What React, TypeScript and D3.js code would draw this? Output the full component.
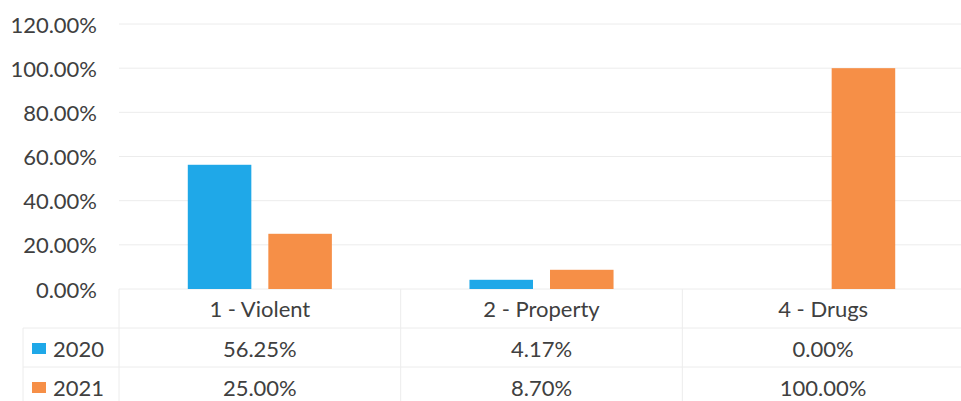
import React from "react";
import * as d3 from "d3";

const categories: string[] = ["1 - Violent", "2 - Property", "4 - Drugs"];
const seriesNames: string[] = ["2020", "2021"];
const values2020: number[] = [56.25, 4.17, 0.0];
const values2021: number[] = [25.0, 8.7, 100.0];
const yTicks: number[] = [0, 20, 40, 60, 80, 100, 120];
const seriesColors: string[] = ["#1fa8e8", "#f68f47"];

const W = 961;
const H = 401;
const FONT = "Lato, 'Open Sans', sans-serif";
const TEXT = "#404040";
const GRID = "#ececec";

export default function App() {
  const seriesValues = [values2020, values2021];
  const x0 = d3.scaleBand<string>().domain(categories).range([119, 964]).paddingInner(0).paddingOuter(0);
  const bw = x0.bandwidth();
  const groupW = (bw * 144) / 281.5;
  const x1 = d3
    .scaleBand<string>()
    .domain(seriesNames)
    .range([(bw - groupW) / 2, (bw + groupW) / 2])
    .paddingInner(0.211)
    .paddingOuter(0);
  const y = d3.scaleLinear().domain([0, 120]).range([289, 24]);
  const fmt = (v: number) => d3.format(".2f")(v) + "%";

  const rowY = [308, 348, 387];
  const rowLines = [289, 328, 367];
  const bounds = categories.map((c) => x0(c) as number).concat([964]);

  return (
    <svg
      width={W}
      height={H}
      viewBox={`0 0 ${W} ${H}`}
      style={{ position: "absolute", left: 0, top: 0, background: "#fff" }}
      fontFamily={FONT}
    >
      <rect x={0} y={0} width={W} height={H} fill="#fff" />
      {/* gridlines */}
      {yTicks.map((t) => (
        <line key={"g" + t} x1={119} x2={W} y1={y(t)} y2={y(t)} stroke={GRID} strokeWidth={1} />
      ))}
      {/* y tick labels */}
      {yTicks.map((t) => (
        <text
          key={"yl" + t}
          x={97}
          y={y(t)}
          textAnchor="end"
          dominantBaseline="central"
          fontSize={22}
          fill={TEXT}
        >
          {fmt(t)}
        </text>
      ))}
      {/* bars */}
      {categories.map((c, ci) => (
        <g key={c} transform={`translate(${x0(c)},0)`}>
          {seriesNames.map((s, si) => {
            const v = seriesValues[si][ci];
            return (
              <rect
                key={s}
                x={x1(s) as number}
                y={y(v)}
                width={x1.bandwidth()}
                height={y(0) - y(v)}
                fill={seriesColors[si]}
              />
            );
          })}
        </g>
      ))}
      {/* data table lines */}
      {rowLines.slice(1).map((ly) => (
        <line key={"rl" + ly} x1={23} x2={W} y1={ly} y2={ly} stroke={GRID} strokeWidth={1} />
      ))}
      {bounds.map((bx, i) => (
        <line key={"vb" + i} x1={bx} x2={bx} y1={289} y2={H} stroke={GRID} strokeWidth={1} />
      ))}
      <line x1={23} x2={23} y1={328} y2={H} stroke={GRID} strokeWidth={1} />
      {/* category labels */}
      {categories.map((c) => (
        <text
          key={"cl" + c}
          x={(x0(c) as number) + bw / 2}
          y={rowY[0]}
          textAnchor="middle"
          dominantBaseline="central"
          fontSize={22}
          fill={TEXT}
        >
          {c}
        </text>
      ))}
      {/* series rows */}
      {seriesNames.map((s, si) => (
        <g key={"row" + s}>
          <rect x={32} y={rowY[si + 1] - 5} width={14} height={11} fill={seriesColors[si]} />
          <text x={53} y={rowY[si + 1]} dominantBaseline="central" fontSize={22} fill={TEXT}>
            {s}
          </text>
          {categories.map((c, ci) => (
            <text
              key={"v" + s + c}
              x={(x0(c) as number) + bw / 2}
              y={rowY[si + 1]}
              textAnchor="middle"
              dominantBaseline="central"
              fontSize={22}
              fill={TEXT}
            >
              {fmt(seriesValues[si][ci])}
            </text>
          ))}
        </g>
      ))}
    </svg>
  );
}
